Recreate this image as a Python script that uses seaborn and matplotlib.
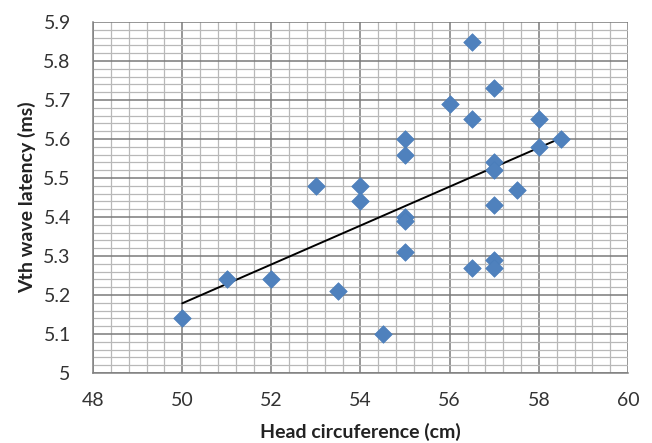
import matplotlib
matplotlib.use("Agg")
import matplotlib.pyplot as plt
import seaborn as sns
import numpy as np
import pandas as pd
from matplotlib.ticker import MultipleLocator

head_cm = [50, 51, 52, 53.5, 53, 54, 54, 54.5, 55, 55, 55, 55, 55, 56, 56.5, 56.5,
           56.5, 57, 57, 57, 57, 57, 57, 57.5, 58, 58, 58.5]
latency_ms = [5.14, 5.24, 5.24, 5.21, 5.48, 5.48, 5.44, 5.10, 5.60, 5.56, 5.40, 5.39,
              5.31, 5.69, 5.85, 5.65, 5.27, 5.73, 5.54, 5.52, 5.43, 5.29, 5.27, 5.47,
              5.65, 5.58, 5.60]
x_ticks = [48, 50, 52, 54, 56, 58, 60]
y_ticks = [5.0, 5.1, 5.2, 5.3, 5.4, 5.5, 5.6, 5.7, 5.8, 5.9]
y_tick_labels = ['5', '5.1', '5.2', '5.3', '5.4', '5.5', '5.6', '5.7', '5.8', '5.9']
x_label = "Head circuference (cm)"
y_label = "Vth wave latency (ms)"

df = pd.DataFrame({"head": head_cm, "lat": latency_ms})

sns.set_style("white")
plt.rcParams['font.family'] = ['Lato', 'DejaVu Sans']

fig = plt.figure(figsize=(6.52, 4.43), dpi=100)
ax = fig.add_axes([93/652, 1-373/443, (628-93)/652, (373-22)/443])

ax.set_xlim(48, 60)
ax.set_ylim(5.0, 5.9)
ax.xaxis.set_minor_locator(MultipleLocator(0.4))
ax.yaxis.set_minor_locator(MultipleLocator(0.02))
ax.grid(which='minor', color='#b8b8b8', linewidth=0.9, zorder=0)
ax.grid(which='major', color='#7a7a7a', linewidth=1.1, zorder=0)
ax.set_axisbelow(True)

sns.regplot(data=df, x="head", y="lat", scatter=False, ci=None, ax=ax,
            line_kws=dict(color='black', linewidth=1.4, zorder=3))
sns.scatterplot(data=df, x="head", y="lat", marker='D', s=80, color='#4F81BD',
                edgecolor='#4A7EBB', linewidth=0.5, ax=ax, zorder=4)

for side in ['top', 'right']:
    ax.spines[side].set_visible(False)
for side in ['left', 'bottom']:
    ax.spines[side].set_color('#808080')
    ax.spines[side].set_linewidth(1.1)

ax.set_xticks(x_ticks)
ax.set_xticklabels([str(v) for v in x_ticks])
ax.set_yticks(y_ticks)
ax.set_yticklabels(y_tick_labels)
ax.set_xlim(48, 60)
ax.set_ylim(5.0, 5.9)
ax.tick_params(which='major', direction='out', length=7, width=1.1, color='#808080',
               labelsize=14, labelcolor='#333333')
ax.tick_params(axis='y', which='major', pad=9)
ax.tick_params(axis='x', which='major', pad=7)
ax.tick_params(which='minor', length=0)

ax.set_xlabel(x_label, fontsize=14, fontweight='bold', color='#222222')
ax.set_ylabel(y_label, fontsize=14, fontweight='bold', color='#222222')
ax.xaxis.set_label_coords(0.5, -(432-373)/351, transform=ax.transAxes)
ax.yaxis.set_label_coords(-(93-27)/535, 0.5, transform=ax.transAxes)
ax.xaxis.label.set_va('center')
ax.yaxis.label.set_va('center')

fig.savefig("out.png", dpi=100)
